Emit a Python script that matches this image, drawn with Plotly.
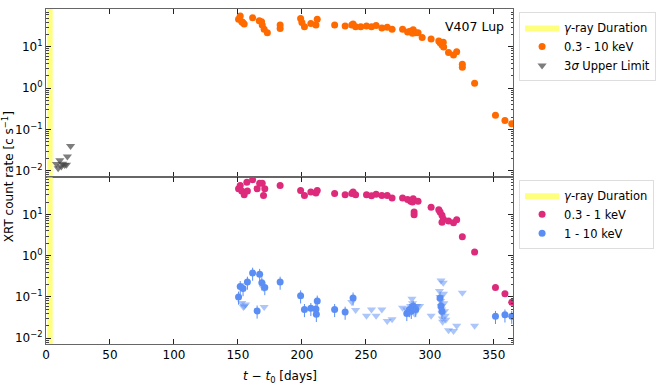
import plotly.graph_objects as go
from plotly.subplots import make_subplots

# gamma-ray duration (days)
gamma_start, gamma_end = 1.0, 5.2

# top panel: 0.3 - 10 keV
t_full = [150.5, 151.8, 153, 154.9, 153.8, 161.5, 166.7, 168.5, 169, 170.5, 173, 183, 183,
          199, 200, 202, 207, 211, 212, 225.6, 233.8, 239, 240, 242, 246, 250.5, 254.4, 258,
          262.5, 266.7, 270.5, 278.7, 282.6, 284.6, 286.4, 287, 289, 290.8, 294, 301, 307,
          308, 309.5, 310.5, 310.8, 314.6, 318.5, 321, 325.4, 325.4, 335, 351.3, 358.7, 364]
r_full = [47, 56, 41, 36, 39, 51, 43, 41, 34, 27, 22, 34, 28,
          49, 39, 31, 37, 34, 47, 34, 32, 34, 36, 31, 31, 32, 31, 33,
          29, 30, 27, 27, 23, 24, 21.5, 26, 22, 22, 17, 15.6, 14,
          12.7, 11.2, 13, 10, 7.3, 6.4, 7.7, 3.8, 3.2, 1.32, 0.22, 0.166, 0.138]

# top panel: 3 sigma upper limits
t_ul = [8.2, 9.5, 10.8, 12, 13, 14.6, 16, 16.7, 19.2]
r_ul = [0.0145, 0.0115, 0.018, 0.0126, 0.0148, 0.0138, 0.014, 0.022, 0.04]

# bottom panel: 0.3 - 1 keV
t_soft = [150.5, 151.8, 153, 154.9, 157, 157.4, 161.5, 165, 167, 169, 171, 170,
          183, 199, 202, 207, 211, 212, 225.6, 233.8, 239, 240, 242, 250.5, 254.4, 258,
          262.5, 266.7, 270.5, 278.7, 282.6, 285, 286.4, 287, 287.7, 287.7, 290.8, 301,
          307, 308, 309.5, 309.5, 310.5, 314.6, 318.5, 321, 325.4, 335, 351.3, 358.7, 364]
r_soft = [42, 50, 37, 30, 60, 37, 69, 42, 57, 57, 42, 29,
          50, 38, 29, 35, 33, 38, 32, 30, 32, 35, 30, 30, 28.5, 31,
          29, 29, 25, 25, 23, 21, 20, 24, 11.4, 9.8, 21, 15,
          13, 11.5, 9.5, 6.5, 7.8, 6.9, 6.3, 7.4, 2.9, 1.23, 0.17, 0.12, 0.074]

# bottom panel: 1 - 10 keV detections
t_hard = [150.5, 151.8, 154, 157.4, 161.5, 165, 167, 168.7, 171, 183, 199, 202, 207,
          211, 211.3, 212, 225.6, 233.8, 240, 282, 284, 285.5, 287, 289, 308, 308.7,
          309.5, 351.3, 358.7, 364]
r_hard = [0.1, 0.18, 0.16, 0.23, 0.38, 0.046, 0.355, 0.22, 0.17, 0.23, 0.107, 0.05, 0.053,
          0.051, 0.038, 0.08, 0.05, 0.043, 0.095, 0.04, 0.05, 0.045, 0.06, 0.05, 0.095, 0.06,
          0.045, 0.034, 0.037, 0.034]

# bottom panel: 1 - 10 keV upper limits
t_hard_ul = [153, 154.3, 156, 155, 170, 170.5, 239, 242, 250.5, 254.4, 258, 262.5, 266.7,
             270.5, 278.7, 282, 283, 284, 285, 286, 286.5, 287, 288, 289, 290, 292, 301,
             307.5, 308, 308.5, 308.7, 309, 309.2, 309.5, 309.8, 310, 310.5, 310.7, 311,
             311.5, 312, 312.5, 314.6, 318.5, 321, 325.4, 335]
r_hard_ul = [0.071, 0.057, 0.066, 0.06, 0.166, 0.057, 0.076, 0.048, 0.035, 0.05, 0.035, 0.05,
             0.026, 0.029, 0.055, 0.05, 0.045, 0.04, 0.06, 0.091, 0.07, 0.05, 0.04, 0.06, 0.06,
             0.06, 0.035, 0.14, 0.1, 0.08, 0.25, 0.06, 0.05, 0.04, 0.03, 0.025, 0.22, 0.12,
             0.07, 0.045, 0.035, 0.028, 0.0155, 0.015, 0.02, 0.126, 0.02]

tick_vals = [0.01, 0.1, 1, 10]
tick_text = ["10<sup>−2</sup>", "10<sup>−1</sup>", "10<sup>0</sup>", "10<sup>1</sup>"]

ORANGE = "#ff6a00"
MAGENTA = "#dd2a7b"
BLUE = "#5b8ef5"
YELLOW = "rgba(255,255,40,0.6)"

fig = make_subplots(rows=2, cols=1, shared_xaxes=True, vertical_spacing=0)

# gamma-ray band in both panels
for row, leg in [(1, "legend"), (2, "legend2")]:
    fig.add_trace(go.Scatter(
        x=[gamma_start, gamma_end, gamma_end, gamma_start, gamma_start],
        y=[1e-4, 1e-4, 1e4, 1e4, 1e-4], mode="lines", fill="toself",
        fillcolor=YELLOW, line=dict(width=0), name="<i>γ</i>-ray Duration",
        legend=leg, hoverinfo="skip"), row=row, col=1)

fig.add_trace(go.Scatter(
    x=t_full, y=r_full, mode="markers", name="0.3 - 10 keV", legend="legend",
    marker=dict(color=ORANGE, size=7),
    error_y=dict(type="percent", value=6, color=ORANGE, thickness=1, width=0)), row=1, col=1)
fig.add_trace(go.Scatter(
    x=t_ul, y=r_ul, mode="markers", name="3<i>σ</i> Upper Limit", legend="legend",
    marker=dict(color="rgba(70,70,70,0.7)", size=8, symbol="triangle-down")), row=1, col=1)

fig.add_trace(go.Scatter(
    x=t_soft, y=r_soft, mode="markers", name="0.3 - 1 keV", legend="legend2",
    marker=dict(color=MAGENTA, size=7),
    error_y=dict(type="percent", value=6, color=MAGENTA, thickness=1, width=0)), row=2, col=1)
fig.add_trace(go.Scatter(
    x=t_hard, y=r_hard, mode="markers", name="1 - 10 keV", legend="legend2",
    marker=dict(color=BLUE, size=7),
    error_y=dict(type="percent", value=35, color=BLUE, thickness=1, width=0)), row=2, col=1)
fig.add_trace(go.Scatter(
    x=t_hard_ul, y=r_hard_ul, mode="markers", showlegend=False,
    marker=dict(color="rgba(91,142,245,0.5)", size=8, symbol="triangle-down")), row=2, col=1)

axis_style = dict(showline=True, linecolor="#666", linewidth=1, mirror="ticks",
                  ticks="inside", tickcolor="#222", ticklen=5, showgrid=False,
                  zeroline=False, automargin=False, tickfont=dict(size=12))
for r in (1, 2):
    fig.update_xaxes(range=[0, 365], dtick=50, **axis_style, row=r, col=1)
    fig.update_yaxes(type="log", range=[-2.14, 1.92], tickvals=tick_vals,
                     ticktext=tick_text, minor=dict(ticks="inside", ticklen=2.5,
                                                    dtick="D1", tickcolor="#444"),
                     **axis_style, row=r, col=1)
fig.update_xaxes(showticklabels=False, row=1, col=1)

legend_style = dict(xanchor="left", yanchor="top", x=1.013, bgcolor="white",
                    bordercolor="#ddd", borderwidth=1, font=dict(size=11.5),
                    tracegroupgap=0, itemwidth=34)
fig.update_layout(
    width=665, height=384,
    margin=dict(l=46, r=145, t=9, b=40),
    plot_bgcolor="white", paper_bgcolor="white",
    font=dict(family="DejaVu Sans", size=11, color="black"),
    legend=dict(y=0.991, **legend_style),
    legend2=dict(y=0.49, **legend_style),
    annotations=[
        dict(text="V407 Lup", xref="paper", yref="paper", x=0.985, y=0.975,
             xanchor="right", yanchor="top", showarrow=False, font=dict(size=12.5)),
        dict(text="XRT count rate [c s<sup>−1</sup>]", xref="paper", x=-0.082,
             yref="paper", y=0.5, xanchor="center", yanchor="middle",
             textangle=-90, showarrow=False, font=dict(size=12)),
        dict(text="<i>t</i> − <i>t</i><sub>0</sub> [days]", xref="paper", x=0.5,
             yref="paper", y=-0.07, xanchor="center", yanchor="top",
             showarrow=False, font=dict(size=12)),
    ],
)

fig.write_html("out.html", config={"displayModeBar": False},
               post_script="document.body.style.margin='0px';")
